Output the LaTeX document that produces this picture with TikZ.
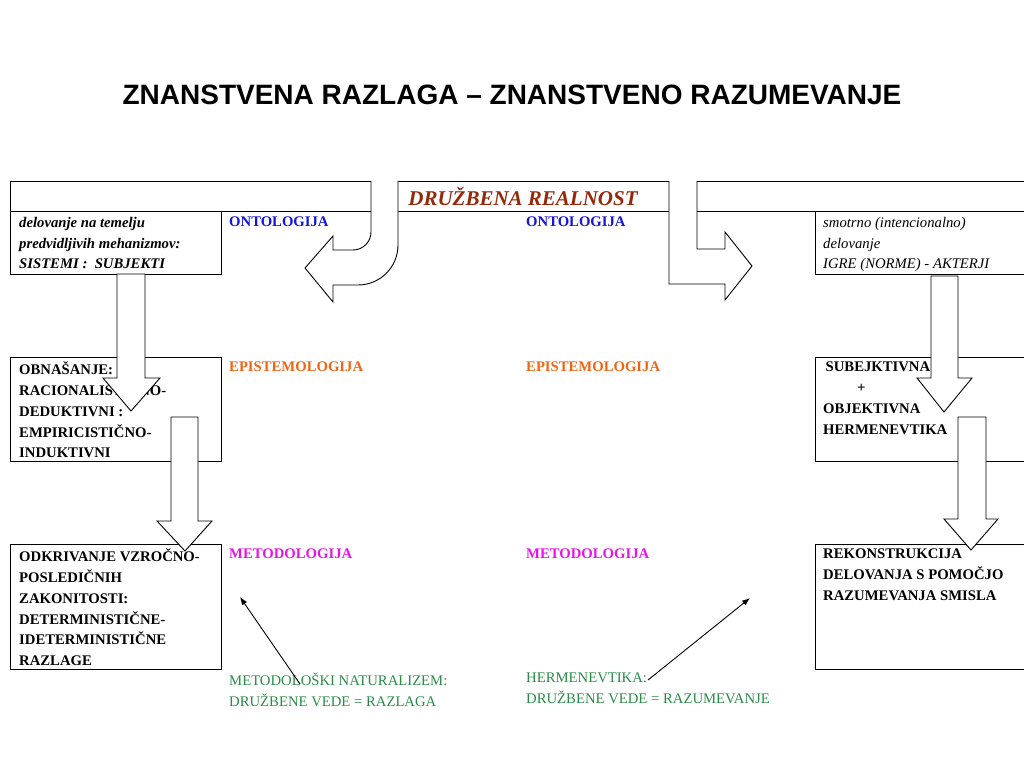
\documentclass[tikz,border=0pt]{standalone}
\usepackage{fontspec}
\setmainfont{Liberation Serif}
\newfontfamily\titlefont{Liberation Sans}
\usetikzlibrary{arrows.meta}
\definecolor{ontc}{RGB}{20,20,220}
\definecolor{epic}{RGB}{240,100,20}
\definecolor{metc}{RGB}{230,20,230}
\definecolor{natc}{RGB}{40,140,70}
\definecolor{drc}{RGB}{150,40,10}
\begin{document}
\begin{tikzpicture}[x=1pt,y=-1pt,
  tx/.style={anchor=north west,align=left,inner sep=0,font=\fontsize{14.7}{20.7}\selectfont\bfseries},
  box/.style={draw,line width=0.8pt},
  barrow/.style={draw,fill=white,line width=0.9pt,line join=miter}]
\useasboundingbox (0,0) rectangle (1024,767);
\node[font=\titlefont\fontsize{28}{32}\selectfont\bfseries] (title) at (512,95) {ZNANSTVENA RAZLAGA – ZNANSTVENO RAZUMEVANJE};
% band
\draw[box] (10,181) -- (1024,181);
\draw[box] (10,181) -- (10,211) -- (1024,211);
\node[font=\fontsize{21}{24}\selectfont\bfseries\itshape,text=drc] (dr) at (523,196) {DRUŽBENA REALNOST};
% boxes
\draw[box] (10,211) rectangle (221,274);
\draw[box] (10,357) rectangle (221,461);
\draw[box] (10,544) rectangle (221,669);
\draw[box] (1024,211) -- (815,211) -- (815,274) -- (1024,274);
\draw[box] (1024,357) -- (815,357) -- (815,461) -- (1024,461);
\draw[box] (1024,544) -- (815,544) -- (815,669) -- (1024,669);
% texts left
\node[tx,font=\fontsize{14.7}{20.7}\selectfont\bfseries\itshape] (l1) at (19,217) {delovanje na temelju\\predvidljivih mehanizmov:\\SISTEMI :\ \ SUBJEKTI};
\node[tx] (l2) at (19,362) {OBNAŠANJE:\\RACIONALISTIČNO-\\DEDUKTIVNI :\\EMPIRICISTIČNO-\\INDUKTIVNI};
\node[tx] (l3) at (19,549) {ODKRIVANJE VZROČNO-\\POSLEDIČNIH\\ZAKONITOSTI:\\DETERMINISTIČNE-\\IDETERMINISTIČNE\\RAZLAGE};
\node[tx,font=\fontsize{14.7}{20.7}\selectfont\itshape] (r1) at (823,217) {smotrno (intencionalno)\\delovanje\\IGRE (NORME) - AKTERJI};
\node[tx] (r2) at (823,362) {\,SUBEJKTIVNA\\\hspace*{2.3em}+\\OBJEKTIVNA\\HERMENEVTIKA};
\node[tx] (r3) at (823,549) {REKONSTRUKCIJA\\DELOVANJA S POMOČJO\\RAZUMEVANJA SMISLA};
% middle labels
\node[tx,text=ontc] (o1) at (229,217) {ONTOLOGIJA};
\node[tx,text=ontc] (o2) at (526,217) {ONTOLOGIJA};
\node[tx,text=epic] (e1) at (229,362) {EPISTEMOLOGIJA};
\node[tx,text=epic] (e2) at (526,362) {EPISTEMOLOGIJA};
\node[tx,text=metc] (m1) at (229,549) {METODOLOGIJA};
\node[tx,text=metc] (m2) at (526,549) {METODOLOGIJA};
\node[tx,text=natc,font=\fontsize{14.7}{20.7}\selectfont] (n1) at (229,673) {METODOLOŠKI NATURALIZEM:\\DRUŽBENE VEDE = RAZLAGA};
\node[tx,text=natc,font=\fontsize{14.7}{20.7}\selectfont] (n2) at (526,673) {HERMENEVTIKA:\\DRUŽBENE VEDE = RAZUMEVANJE};
% block arrows
\draw[barrow] (371,181) -- (371,232) arc (0:90:18) -- (333,250) -- (333,236) -- (305,268) -- (333,302) -- (333,285) -- (358,285) arc (90:0:40) -- (398,181);
\draw[barrow] (669,181) -- (669,284) -- (725,284) -- (725,300) -- (752,266) -- (725,232) -- (725,249) -- (697,249) -- (697,181);
\draw[barrow] (117,274) -- (117,378) -- (103,378) -- (131,411) -- (160,378) -- (145,378) -- (145,274) -- cycle;
\draw[barrow] (171,417) -- (171,521) -- (157,521) -- (185,551) -- (212,521) -- (198,521) -- (198,417) -- cycle;
\draw[barrow] (931,276) -- (931,378) -- (917,378) -- (944,412) -- (972,378) -- (958,378) -- (958,276) -- cycle;
\draw[barrow] (958,417) -- (958,519) -- (944,519) -- (971,550) -- (998,519) -- (986,519) -- (986,417) -- cycle;
% line arrows
\coordinate (a1) at (240,597);
\coordinate (a2) at (750,598);
\draw[-{Latex[length=8pt,width=6pt]},line width=0.9pt] (300,684) -- (a1);
\draw[-{Latex[length=8pt,width=6pt]},line width=0.9pt] (648,680) -- (a2);
\end{tikzpicture}
\end{document}
